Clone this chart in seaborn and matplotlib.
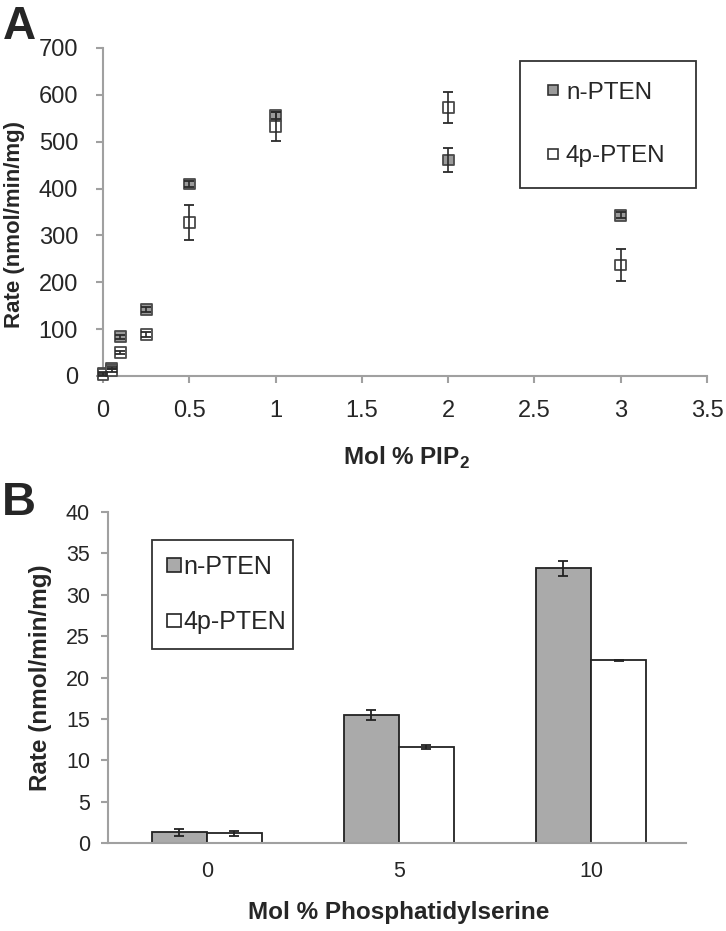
import numpy as np
import pandas as pd
import matplotlib
matplotlib.use("Agg")
import matplotlib.pyplot as plt
from matplotlib.lines import Line2D
from matplotlib.patches import Patch
import seaborn as sns

# ---- panel A data: rate vs mol % PIP2 ----
pip2 = [0, 0.05, 0.1, 0.25, 0.5, 1, 2, 3]
n_rate = [5, 17, 84, 142, 410, 556, 461, 343]
n_err = [3, 3, 4, 5, 6, 8, 26, 6]
p4_rate = [3, 12, 50, 88, 328, 533, 573, 237]
p4_err = [3, 3, 4, 5, 38, 31, 33, 34]

# ---- panel B data: rate vs mol % phosphatidylserine ----
ps = ["0", "5", "10"]
n_ps = [1.3, 15.5, 33.2]
n_ps_err = [0.45, 0.6, 0.9]
p4_ps = [1.2, 11.6, 22.1]
p4_ps_err = [0.3, 0.3, 0.05]

forms = ["n-PTEN", "4p-PTEN"]
fills = {"n-PTEN": "#9a9a9a", "4p-PTEN": "white"}
bar_fills = {"n-PTEN": "#aaaaaa", "4p-PTEN": "white"}

sns.set_theme(style="white")
plt.rcParams["font.family"] = ["Liberation Sans", "DejaVu Sans"]
plt.rcParams["mathtext.fontset"] = "custom"
plt.rcParams["mathtext.rm"] = "Liberation Sans"
plt.rcParams["mathtext.bf"] = "Liberation Sans:bold"

spine_col = "#a0a0a0"

fig = plt.figure(figsize=(7.26, 9.31), dpi=100)

# ================= panel A =================
axA = fig.add_axes([103 / 726, 1 - 376 / 931, 604 / 726, 328 / 931])
dfA = pd.DataFrame({
    "pip2": pip2 * 2,
    "rate": n_rate + p4_rate,
    "err": n_err + p4_err,
    "form": ["n-PTEN"] * len(pip2) + ["4p-PTEN"] * len(pip2),
})
sns.scatterplot(data=dfA, x="pip2", y="rate", hue="form", palette=fills,
                marker="s", s=60, edgecolor="#4a4a4a", linewidth=1.3,
                legend=False, ax=axA, zorder=3, clip_on=False)
# error bars are drawn over the markers, as in the original
for f in forms:
    sub = dfA[dfA.form == f]
    axA.errorbar(sub.pip2, sub.rate, yerr=sub.err, fmt="none", ecolor="#2a2a2a",
                 elinewidth=1.2, capsize=3.8, capthick=1.3, zorder=4, clip_on=False)

axA.set_xlim(0, 3.5)
axA.set_ylim(0, 700)
axA.set_xticks(np.arange(0, 3.51, 0.5))
axA.set_xticklabels(["0", "0.5", "1", "1.5", "2", "2.5", "3", "3.5"])
axA.set_yticks(range(0, 701, 100))
axA.tick_params(axis="x", direction="out", length=5, width=1.5, color=spine_col,
                labelsize=17, pad=12, bottom=True)
axA.tick_params(axis="y", direction="out", length=5, width=1.5, color=spine_col,
                labelsize=17, pad=13, left=True)
for s in ["top", "right"]:
    axA.spines[s].set_visible(False)
for s in ["left", "bottom"]:
    axA.spines[s].set_color(spine_col)
    axA.spines[s].set_linewidth(1.5)
axA.set_xlabel(r"Mol % PIP$_\mathbf{2}$", fontsize=17.5, fontweight="bold")
axA.xaxis.label.set_va("center")
axA.xaxis.set_label_coords(0.502, -0.25)
axA.set_ylabel("Rate (nmol/min/mg)", fontsize=16, fontweight="bold")
axA.yaxis.set_label_coords(-0.129, 0.463)

hA = [Line2D([], [], marker="s", linestyle="none", markersize=7,
             markerfacecolor=fills[f], markeredgecolor="#333333", markeredgewidth=1.2)
      for f in forms]
legA = axA.legend(hA, forms, loc="upper left", bbox_to_anchor=(0.690, 0.960, 0.291, 0.0),
                  mode="expand", fontsize=17.5, frameon=True, fancybox=False,
                  edgecolor="black", handlelength=1.0, handletextpad=0.05,
                  labelspacing=1.7, borderpad=0.85, borderaxespad=0)
legA.get_frame().set_linewidth(1.3)

# ================= panel B =================
axB = fig.add_axes([108 / 726, 1 - 843 / 931, 578 / 726, 331 / 931])
dfB = pd.DataFrame({
    "ps": ps * 2,
    "rate": n_ps + p4_ps,
    "err": n_ps_err + p4_ps_err,
    "form": ["n-PTEN"] * 3 + ["4p-PTEN"] * 3,
})
sns.barplot(data=dfB, x="ps", y="rate", hue="form", order=ps, hue_order=forms,
            palette=bar_fills, width=0.574, gap=0, edgecolor="#222222", linewidth=1.3,
            errorbar=None, legend=False, ax=axB, zorder=2)
bars = [p for p in axB.patches if p.get_height() > 0]
for p in bars:
    cx = p.get_x() + p.get_width() / 2
    h = p.get_height()
    row = dfB[np.isclose(dfB.rate, h)].iloc[0]
    axB.errorbar(cx, h, yerr=row.err, fmt="none", ecolor="#222222",
                 elinewidth=1.3, capsize=3.5, capthick=1.3, zorder=3)

axB.set_xlim(-0.515, 2.495)
axB.set_ylim(0, 40)
axB.set_yticks(range(0, 41, 5))
axB.tick_params(axis="y", direction="out", length=5, width=1.5, color=spine_col,
                labelsize=15.5, pad=8, left=True)
axB.tick_params(axis="x", length=0, labelsize=15.5, pad=13)
for s in ["top", "right"]:
    axB.spines[s].set_visible(False)
for s in ["left", "bottom"]:
    axB.spines[s].set_color(spine_col)
    axB.spines[s].set_linewidth(1.5)
axB.set_xlabel("Mol % Phosphatidylserine", fontsize=17.5, fontweight="bold")
axB.xaxis.label.set_va("center")
axB.xaxis.set_label_coords(0.503, -0.211)
axB.set_ylabel("Rate (nmol/min/mg)", fontsize=17.5, fontweight="bold")
axB.yaxis.set_label_coords(-0.097, 0.5)

hB = [Patch(facecolor=bar_fills[f], edgecolor="#222222", linewidth=1.2) for f in forms]
legB = axB.legend(hB, forms, loc="upper left", bbox_to_anchor=(0.076, 0.915, 0.244, 0.0),
                  mode="expand", fontsize=18, frameon=True, fancybox=False,
                  edgecolor="black", handlelength=0.56, handleheight=0.48,
                  handletextpad=0.1, labelspacing=1.25, borderpad=0.6,
                  borderaxespad=0)
legB.get_frame().set_linewidth(1.3)

# panel letters
fig.text(0.004, 0.995, "A", fontsize=33, fontweight="bold", va="top", ha="left")
fig.text(0.003, 0.483, "B", fontsize=34, fontweight="bold", va="top", ha="left")

fig.savefig("out.png", dpi=100, facecolor="white")
